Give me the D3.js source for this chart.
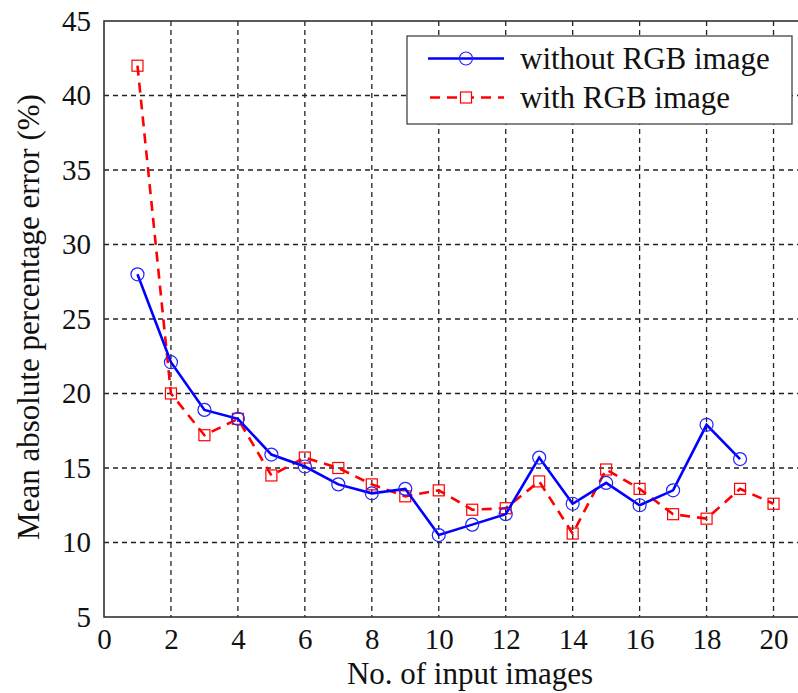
<!DOCTYPE html>
<html><head><meta charset="utf-8">
<script src="https://cdn.jsdelivr.net/npm/d3@7"></script>
<style>body{margin:0;background:#fff}svg{display:block}</style>
</head><body>
<svg id="c" width="798" height="693"></svg>
<script>
const xValues = [1,2,3,4,5,6,7,8,9,10,11,12,13,14,15,16,17,18,19,20];
const withoutRGB = [28.0,22.1,18.9,18.3,15.9,15.1,13.9,13.3,13.6,10.5,11.2,11.9,15.7,12.6,14.0,12.5,13.5,17.9,15.6];
const withRGB = [42.0,20.0,17.2,18.3,14.5,15.7,15.0,13.9,13.1,13.5,12.2,12.3,14.1,10.6,14.9,13.6,11.9,11.6,13.6,12.6];
const xTicks = [0,2,4,6,8,10,12,14,16,18,20];
const yTicks = [5,10,15,20,25,30,35,40,45];
const seriesNames = ["without RGB image","with RGB image"];

const svg = d3.select("#c");
const L=104, R=807, T=21, B=617;
const x = d3.scaleLinear().domain([0,21]).range([L,R]);
const y = d3.scaleLinear().domain([5,45]).range([B,T]);
const font = "'Liberation Serif','Times New Roman',serif";

// grid
const grid = svg.append("g");
xTicks.filter(t=>t>0).forEach(t=>{
  grid.append("line").attr("x1",x(t)).attr("x2",x(t)).attr("y1",T).attr("y2",B)
    .attr("stroke","#222").attr("stroke-width",1.3).attr("stroke-dasharray","5,4");
});
yTicks.filter(t=>t>5 && t<45).forEach(t=>{
  grid.append("line").attr("x1",L).attr("x2",R).attr("y1",y(t)).attr("y2",y(t))
    .attr("stroke","#222").attr("stroke-width",1.3).attr("stroke-dasharray","5,4");
});

// frame
svg.append("rect").attr("x",L).attr("y",T).attr("width",R-L).attr("height",B-T)
  .attr("fill","none").attr("stroke","#333").attr("stroke-width",1.6);

// axes (labels via d3 axis)
const xAxis = svg.append("g").attr("transform",`translate(0,${B})`)
  .call(d3.axisBottom(x).tickValues(xTicks).tickSize(0).tickPadding(12).tickFormat(d3.format("d")));
xAxis.select(".domain").remove();
xAxis.selectAll("text").attr("font-family",font).attr("font-size",29).attr("fill","#111")
  .attr("dy","0.71em").attr("y",11);

const yAxis = svg.append("g").attr("transform",`translate(${L},0)`)
  .call(d3.axisLeft(y).tickValues(yTicks).tickSize(0).tickPadding(13).tickFormat(d3.format("d")));
yAxis.select(".domain").remove();
yAxis.selectAll("text").attr("font-family",font).attr("font-size",29).attr("fill","#111");

// axis titles
svg.append("text").attr("x",470).attr("y",684).attr("text-anchor","middle")
  .attr("font-family",font).attr("font-size",31).attr("fill","#111").text("No. of input images");
svg.append("text").attr("transform","translate(39,317) rotate(-90)").attr("text-anchor","middle")
  .attr("font-family",font).attr("font-size",31).attr("fill","#111").text("Mean absolute percentage  error (%)");

const line = d3.line().x(d=>x(d[0])).y(d=>y(d[1]));
const dBlue = withoutRGB.map((v,i)=>[xValues[i],v]);
const dRed = withRGB.map((v,i)=>[xValues[i],v]);

const plot = svg.append("g");
plot.append("path").datum(dRed).attr("d",line).attr("fill","none")
  .attr("stroke","#ff0000").attr("stroke-width",2.6).attr("stroke-dasharray","10,7");
plot.selectAll("rect.m").data(dRed).enter().append("rect").attr("class","m")
  .attr("x",d=>x(d[0])-5.5).attr("y",d=>y(d[1])-5.5).attr("width",11).attr("height",11)
  .attr("fill","none").attr("stroke","#ff0000").attr("stroke-width",1.2);
plot.append("path").datum(dBlue).attr("d",line).attr("fill","none")
  .attr("stroke","#0000ff").attr("stroke-width",2.6);
plot.selectAll("circle.m").data(dBlue).enter().append("circle").attr("class","m")
  .attr("cx",d=>x(d[0])).attr("cy",d=>y(d[1])).attr("r",6.5)
  .attr("fill","none").attr("stroke","#2222ff").attr("stroke-width",1.2);

// legend
const lg = svg.append("g");
lg.append("rect").attr("x",407).attr("y",36).attr("width",385).attr("height",88)
  .attr("fill","#fff").attr("stroke","#444").attr("stroke-width",1.3);
const rows = [58.5,97.5];
lg.append("line").attr("x1",428).attr("x2",504).attr("y1",rows[0]).attr("y2",rows[0])
  .attr("stroke","#0000ff").attr("stroke-width",2.6);
lg.append("circle").attr("cx",466).attr("cy",rows[0]).attr("r",6.5).attr("fill","none")
  .attr("stroke","#2222ff").attr("stroke-width",1.2);
lg.append("line").attr("x1",430).attr("x2",504).attr("y1",rows[1]).attr("y2",rows[1])
  .attr("stroke","#ff0000").attr("stroke-width",2.6).attr("stroke-dasharray","10,7");
lg.append("rect").attr("x",466-5.5).attr("y",rows[1]-5.5).attr("width",11).attr("height",11)
  .attr("fill","#fff").attr("stroke","#ff0000").attr("stroke-width",1.2);
seriesNames.forEach((n,i)=>{
  lg.append("text").attr("x",520).attr("y",rows[i]).attr("dy","0.33em")
    .attr("font-family",font).attr("font-size",31).attr("fill","#111").text(n);
});
</script>
</body></html>
